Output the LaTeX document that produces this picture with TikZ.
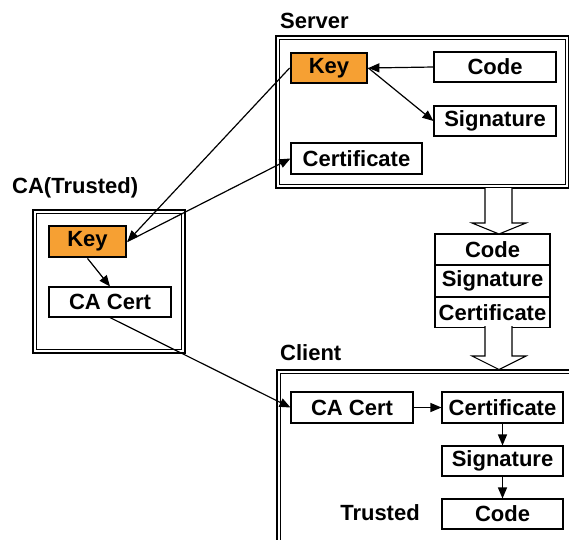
\documentclass[tikz,border=0pt]{standalone}
\usepackage{fontspec}
\setmainfont{Liberation Sans}
\usetikzlibrary{arrows.meta}
\definecolor{keyorange}{HTML}{F6A033}
\tikzset{
  frameline/.style={draw=black, line width=1.1pt},
  box/.style={draw=black, line width=1.1pt, fill=white, inner sep=0pt,
    minimum height=30pt, font=\fontsize{22}{24}\selectfont\bfseries},
  keybox/.style={box, fill=keyorange, line width=2.8pt},
  lbl/.style={inner sep=0pt, font=\fontsize{22}{24}\selectfont\bfseries},
  conn/.style={line width=1.2pt, -{Triangle[length=11pt,width=9pt]}},
  hollow/.style={draw=black, line width=1.1pt, fill=white, line join=miter}
}
\begin{document}
\begin{tikzpicture}[x=1pt, y=-1pt]
\useasboundingbox (0,0) rectangle (569,539);
\clip (0,0) rectangle (569,539);

% double-ruled frames
\draw[frameline] (276,36) rectangle (569,188);
\draw[frameline] (279.5,39.5) rectangle (565.5,184.5);
\draw[frameline] (33,210) rectangle (185,353);
\draw[frameline] (36.5,213.5) rectangle (181.5,349.5);
\draw[frameline] (277,560) -- (277,370) -- (590,370);
\draw[frameline] (280.5,560) -- (280.5,373.5) -- (590,373.5);

% labels of the frames
\node[lbl, anchor=west] (lserver) at (280,21) {Server};
\node[lbl, anchor=west] (lca) at (12,188) {CA(Trusted)};
\node[lbl, anchor=west] (lclient) at (280,353) {Client};

% server contents
\node[keybox, minimum width=76pt, minimum height=30pt] (skey) at (329,68) {Key};
\node[box, minimum width=122pt] (scode) at (495,67) {Code};
\node[box, minimum width=122pt] (ssig) at (495,121) {Signature};
\node[box, minimum width=131pt, minimum height=31pt] (scert) at (356.5,158.5) {Certificate};

% CA contents
\node[keybox, minimum width=77pt, minimum height=31pt] (ckey) at (87.5,241.5) {Key};
\node[box, minimum width=122pt] (ccert) at (110,302) {CA Cert};

% transmitted bundle
\node[box, minimum width=115pt, minimum height=30.5pt] (tcode) at (492.5,249.25) {Code};
\node[box, minimum width=115pt, minimum height=30.5pt, anchor=north] (tsig) at (tcode.south) {Signature};
\node[box, minimum width=115pt, minimum height=30.5pt, anchor=north] (tcert) at (tsig.south) {Certificate};

% client contents
\node[box, minimum width=122pt, minimum height=31pt] (kcacert) at (352,407.5) {CA Cert};
\node[box, minimum width=121pt, minimum height=31pt] (kcert) at (502.5,407.5) {Certificate};
\node[box, minimum width=121pt] (ksig) at (502.5,461) {Signature};
\node[box, minimum width=121pt] (kcode) at (502.5,514) {Code};
\node[lbl] (ltrusted) at (380,513) {Trusted};

% hollow block arrows
\draw[hollow] (485,188) -- (485,223) -- (472,223) -- (499,234) -- (526,223) -- (512,223) -- (512,188);
\draw[hollow] (485,326) -- (485,356) -- (472,356) -- (499,369.5) -- (526,356) -- (512,356) -- (512,326);

% connectors
\draw[conn] (scode.west) -- (skey.east);
\draw[conn] (skey.east) -- (ssig.west);
\draw[conn] (skey.west) -- (ckey.east);
\draw[conn] (ckey.east) -- (scert.west);
\draw[conn] (ckey.south) -- (ccert.north);
\draw[conn] (ccert.south) -- (kcacert.west);
\draw[conn] (kcacert.east) -- (kcert.west);
\draw[conn] (kcert.south) -- (ksig.north);
\draw[conn] (ksig.south) -- (kcode.north);
\end{tikzpicture}
\end{document}
